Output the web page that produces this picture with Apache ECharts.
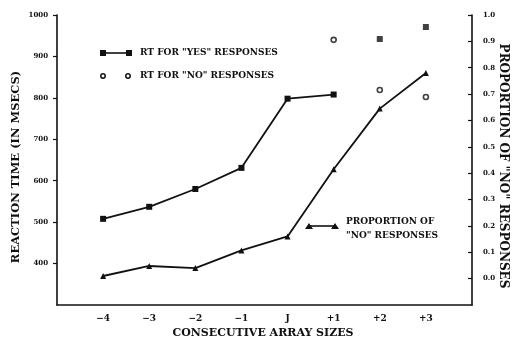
<!DOCTYPE html>
<html>
<head>
<meta charset="utf-8">
<script src="https://cdn.jsdelivr.net/npm/echarts@6/dist/echarts.min.js"></script>
<style>html,body{margin:0;padding:0;background:#fff}#c{width:515px;height:342px}</style>
</head>
<body>
<div id="c"></div>
<script>
// ---- data ----
const categories = ['\u22124', '\u22123', '\u22122', '\u22121', 'J', '+1', '+2', '+3'];
const rtYes = [508, 537, 580, 631, 798, 808, 942, 971];
const rtYesConnectedCount = 6;          // first six points are joined by the line
const rtNo = [null, null, null, null, null, 940, 819, 802];
const propNo = [0.01, 0.048, 0.04, 0.107, 0.16, 0.415, 0.645, 0.78];
const rtTicks = [400, 500, 600, 700, 800, 900, 1000];
const propTicks = [0, 0.1, 0.2, 0.3, 0.4, 0.5, 0.6, 0.7, 0.8, 0.9, 1.0];

const FONT = '"DejaVu Serif", "Liberation Serif", serif';
const INK = '#111';

const yesLine = rtYes.slice(0, rtYesConnectedCount).map((v, i) => [i, v]);
const yesPts = rtYes.map((v, i) => [i, v]).slice(rtYesConnectedCount);
const noPts = rtNo.map((v, i) => [i, v]).filter(d => d[1] != null);
const propLine = propNo.map((v, i) => [i, v]);

const chart = echarts.init(document.getElementById('c'), null, {renderer: 'canvas'});
chart.setOption({
  animation: false,
  backgroundColor: '#fff',
  grid: {left: 57, right: 43, top: 15, bottom: 37, containLabel: false},
  xAxis: {
    type: 'value', min: -1, max: 8.0,
    splitLine: {show: false},
    axisLine: {show: true, onZero: false, lineStyle: {color: INK, width: 1.6}},
    axisTick: {show: false},
    axisLabel: {
      customValues: categories.map((c, i) => i),
      formatter: v => categories[Math.round(v)],
      fontFamily: FONT, fontWeight: 'bold', fontSize: 9, color: INK, margin: 9
    }
  },
  yAxis: [{
    type: 'value', min: 300, max: 1000, interval: 100,
    splitLine: {show: false},
    axisLine: {show: true, onZero: false, lineStyle: {color: INK, width: 1.6}},
    axisTick: {show: true, inside: false, length: 4, customValues: rtTicks, lineStyle: {color: INK, width: 1.2}},
    axisLabel: {customValues: rtTicks, formatter: v => String(v), fontFamily: FONT, fontWeight: 'bold', fontSize: 7, color: INK, margin: 9}
  }, {
    type: 'value', position: 'right', min: -0.1, max: 1.0, interval: 0.1,
    splitLine: {show: false},
    axisLine: {show: true, onZero: false, lineStyle: {color: INK, width: 1.6}},
    axisTick: {show: true, inside: true, length: 4, customValues: propTicks, lineStyle: {color: INK, width: 1.2}},
    axisLabel: {customValues: propTicks, formatter: v => v.toFixed(1), fontFamily: FONT, fontWeight: 'bold', fontSize: 7, color: INK, margin: 11}
  }],
  series: [{
    type: 'line', yAxisIndex: 0, data: yesLine,
    symbol: 'rect', symbolSize: 6,
    lineStyle: {color: INK, width: 1.8}, itemStyle: {color: INK}
  }, {
    type: 'scatter', yAxisIndex: 0, data: yesPts,
    symbol: 'rect', symbolSize: 6, itemStyle: {color: INK}
  }, {
    type: 'scatter', yAxisIndex: 0, data: noPts,
    symbol: 'circle', symbolSize: 5,
    itemStyle: {color: '#fff', borderColor: INK, borderWidth: 1.6}
  }, {
    type: 'line', yAxisIndex: 1, data: propLine,
    symbol: 'triangle', symbolSize: 6,
    lineStyle: {color: INK, width: 1.8}, itemStyle: {color: INK}
  }],
  graphic: [
    // axis titles
    {type: 'text', x: 16, y: 167, rotation: Math.PI / 2,
      style: {text: 'REACTION TIME (IN MSECS)', font: 'bold 11.5px ' + FONT, fill: INK, align: 'center', verticalAlign: 'middle'}},
    {type: 'text', x: 503, y: 166, rotation: -Math.PI / 2,
      style: {text: 'PROPORTION OF "NO" RESPONSES', font: 'bold 12px ' + FONT, fill: INK, align: 'center', verticalAlign: 'middle'}},
    {type: 'text', x: 263, y: 333,
      style: {text: 'CONSECUTIVE ARRAY SIZES', font: 'bold 11px ' + FONT, fill: INK, align: 'center', verticalAlign: 'middle'}},
    // legend 1
    {type: 'line', shape: {x1: 103, y1: 53, x2: 129, y2: 53}, style: {stroke: INK, lineWidth: 1.6}},
    {type: 'rect', shape: {x: 100, y: 50, width: 6, height: 6}, style: {fill: INK}},
    {type: 'rect', shape: {x: 126, y: 50, width: 6, height: 6}, style: {fill: INK}},
    {type: 'text', x: 140, y: 53, style: {text: 'RT FOR "YES" RESPONSES', font: 'bold 9px ' + FONT, fill: INK, verticalAlign: 'middle'}},
    // legend 2
    {type: 'circle', shape: {cx: 103, cy: 76, r: 2.2}, style: {fill: '#fff', stroke: INK, lineWidth: 1.5}},
    {type: 'circle', shape: {cx: 128, cy: 76, r: 2.2}, style: {fill: '#fff', stroke: INK, lineWidth: 1.5}},
    {type: 'text', x: 140, y: 76, style: {text: 'RT FOR "NO" RESPONSES', font: 'bold 9px ' + FONT, fill: INK, verticalAlign: 'middle'}},
    // legend 3
    {type: 'line', shape: {x1: 309, y1: 226, x2: 335, y2: 226}, style: {stroke: INK, lineWidth: 1.6}},
    {type: 'polygon', shape: {points: [[309, 223], [313, 229], [305, 229]]}, style: {fill: INK}},
    {type: 'polygon', shape: {points: [[335, 223], [339, 229], [331, 229]]}, style: {fill: INK}},
    {type: 'text', x: 346, y: 222, style: {text: 'PROPORTION OF', font: 'bold 9px ' + FONT, fill: INK, verticalAlign: 'middle'}},
    {type: 'text', x: 346, y: 236, style: {text: '"NO" RESPONSES', font: 'bold 9px ' + FONT, fill: INK, verticalAlign: 'middle'}}
  ]
});
</script>
</body>
</html>
